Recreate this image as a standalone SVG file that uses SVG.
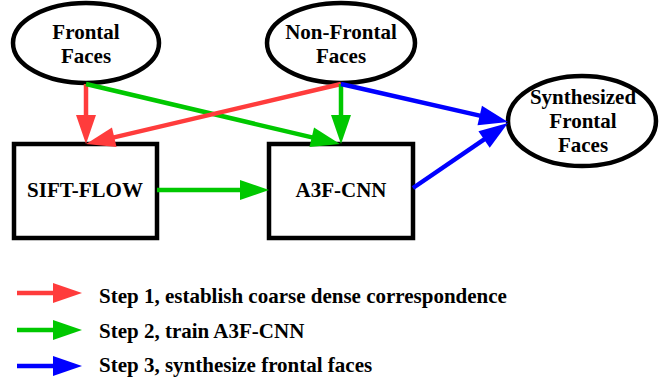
<svg xmlns="http://www.w3.org/2000/svg" width="667" height="381" viewBox="0 0 667 381">
<style>
.n{fill:#fff;stroke:#000;stroke-width:4.5}
.c{text-anchor:middle}
.r{stroke:#ff3c3c;stroke-width:4.5;fill:none}
.g{stroke:#00c800;stroke-width:4.5;fill:none}
.b{stroke:#0000ff;stroke-width:4.5;fill:none}
</style>
<defs>
<marker id="ar" markerUnits="userSpaceOnUse" markerWidth="30" markerHeight="20" refX="9" refY="10" orient="auto" overflow="visible"><path d="M0,0 L29,10 L0,20 z" fill="#ff3c3c"/></marker>
<marker id="ag" markerUnits="userSpaceOnUse" markerWidth="30" markerHeight="20" refX="9" refY="10" orient="auto" overflow="visible"><path d="M0,0 L29,10 L0,20 z" fill="#00c800"/></marker>
<marker id="ab" markerUnits="userSpaceOnUse" markerWidth="30" markerHeight="20" refX="9" refY="10" orient="auto" overflow="visible"><path d="M0,0 L29,10 L0,20 z" fill="#0000ff"/></marker>
</defs>
<g font-family="Liberation Serif, Times New Roman, serif" font-weight="bold" font-size="21" fill="#000">
<g id="frontal"><ellipse class="n" cx="86" cy="43" rx="73" ry="40"/><text class="c" x="86" y="39">Frontal</text><text class="c" x="86" y="63">Faces</text></g>
<g id="nonfrontal"><ellipse class="n" cx="341" cy="43" rx="74" ry="40"/><text class="c" x="341" y="39">Non-Frontal</text><text class="c" x="341" y="63">Faces</text></g>
<g id="synth"><ellipse class="n" cx="582" cy="121" rx="74" ry="45"/><text class="c" x="583" y="104">Synthesized</text><text class="c" x="583" y="128">Frontal</text><text class="c" x="583" y="152">Faces</text></g>
<g id="sift"><rect class="n" x="14" y="144" width="143" height="94"/><text class="c" x="85" y="197">SIFT-FLOW</text></g>
<g id="a3f"><rect class="n" x="269" y="144" width="144" height="94"/><text class="c" x="341" y="197">A3F-CNN</text></g>
</g>
<g id="connectors">
<line class="r" x1="86" y1="84" x2="86" y2="124" marker-end="url(#ar)"/>
<line class="g" x1="86" y1="84" x2="320.5" y2="139.4" marker-end="url(#ag)"/>
<line class="r" x1="341" y1="84" x2="105.5" y2="139.4" marker-end="url(#ar)"/>
<line class="g" x1="341" y1="84" x2="341" y2="124" marker-end="url(#ag)"/>
<line class="b" x1="341" y1="84" x2="488.5" y2="117.6" marker-end="url(#ab)"/>
<line class="b" x1="413" y1="188" x2="491.5" y2="134.3" marker-end="url(#ab)"/>
<line class="g" x1="157" y1="190" x2="249" y2="190" marker-end="url(#ag)"/>
</g>
<g id="legend" font-family="Liberation Serif, Times New Roman, serif" font-weight="bold" font-size="21" fill="#000">
<line class="r" x1="17" y1="293" x2="62" y2="293" marker-end="url(#ar)"/>
<line class="g" x1="17" y1="330" x2="62" y2="330" marker-end="url(#ag)"/>
<line class="b" x1="17" y1="366" x2="62" y2="366" marker-end="url(#ab)"/>
<text x="99" y="303">Step 1, establish coarse dense correspondence</text>
<text x="99" y="338">Step 2, train A3F-CNN</text>
<text x="99" y="372">Step 3, synthesize frontal faces</text>
</g>
</svg>
